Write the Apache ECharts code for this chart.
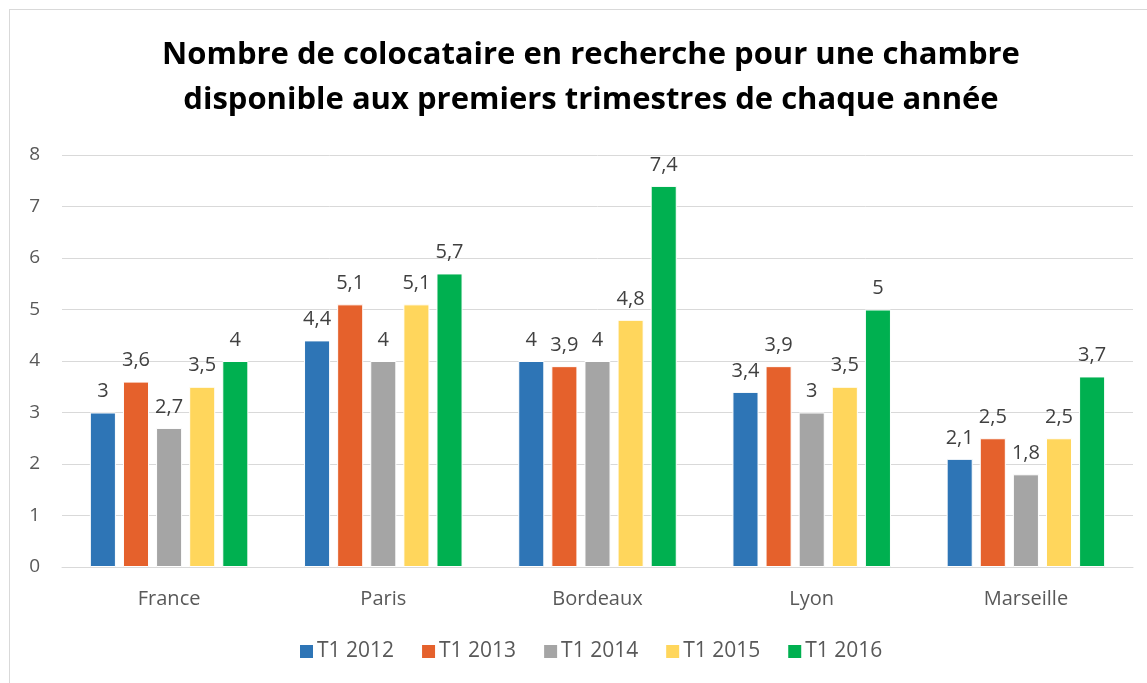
<!DOCTYPE html>
<html>
<head>
<meta charset="utf-8">
<script src="https://cdn.jsdelivr.net/npm/echarts@6/dist/echarts.min.js"></script>
<style>
  html, body { margin: 0; padding: 0; background: #fff; }
  .frame { position: absolute; left: 9px; top: 9px; width: 1150px; height: 690px; border: 1px solid #d9d9d9; box-sizing: border-box; }
  #chart { position: absolute; left: 0; top: 0; width: 1147px; height: 683px; }
</style>
</head>
<body>
<div class="frame"></div>
<div id="chart"></div>
<script>
  // villes et séries
  var villes = ['France', 'Paris', 'Bordeaux', 'Lyon', 'Marseille']
  var t1_2012 = [3, 4.4, 4, 3.4, 2.1]
  var t1_2013 = [3.6, 5.1, 3.9, 3.9, 2.5]
  var t1_2014 = [2.7, 4, 4, 3, 1.8]
  var t1_2015 = [3.5, 5.1, 4.8, 3.5, 2.5]
  var t1_2016 = [4, 5.7, 7.4, 5, 3.7]
  var noms = ['T1 2012', 'T1 2013', 'T1 2014', 'T1 2015', 'T1 2016']
  var couleurs = ['#2E75B6', '#E5612C', '#A5A5A5', '#FFD65C', '#00B050']

  var font = '"Open Sans", "Noto Sans", sans-serif'
  var valeurs = [t1_2012, t1_2013, t1_2014, t1_2015, t1_2016]

  var series = valeurs.map(function (v, i) {
    return {
      name: noms[i],
      type: 'bar',
      data: v,
      barGap: '27%',
      barCategoryGap: '26%',
      itemStyle: { color: couleurs[i], borderColor: '#fff', borderWidth: 1 },
      label: {
        show: true,
        position: 'top',
        distance: 11,
        color: '#404040',
        fontFamily: font,
        fontSize: 20,
        formatter: function (p) { return String(p.value).replace('.', ',') }
      }
    }
  })

  var myChart = echarts.init(document.getElementById('chart'))
  myChart.setOption({
    animation: false,
    title: {
      text: 'Nombre de colocataire en recherche pour une chambre\ndisponible aux premiers trimestres de chaque année',
      left: 586,
      top: 28,
      textAlign: 'center',
      textStyle: {
        fontFamily: font,
        fontWeight: 'bold',
        fontSize: 31,
        lineHeight: 45,
        color: '#000'
      }
    },
    legend: {
      bottom: 16,
      left: 293,
      itemWidth: 15,
      itemHeight: 15,
      itemGap: 26,
      icon: 'rect',
      textStyle: { fontFamily: font, fontSize: 21, color: '#595959', padding: [0, 0, 0, -2] },
      data: noms
    },
    grid: {
      left: 62,
      right: 14,
      top: 155,
      bottom: 116,
      containLabel: false
    },
    xAxis: {
      type: 'category',
      data: villes,
      axisTick: { show: false },
      axisLine: { lineStyle: { color: '#d9d9d9', width: 1 } },
      axisLabel: { color: '#595959', fontFamily: font, fontSize: 20, margin: 22 }
    },
    yAxis: {
      type: 'value',
      min: 0,
      max: 8,
      interval: 1,
      axisLine: { show: false },
      axisTick: { show: false },
      splitLine: { lineStyle: { color: '#d9d9d9', width: 1 } },
      axisLabel: { color: '#595959', fontFamily: font, fontSize: 19, margin: 22 }
    },
    series: series
  })
</script>
</body>
</html>
